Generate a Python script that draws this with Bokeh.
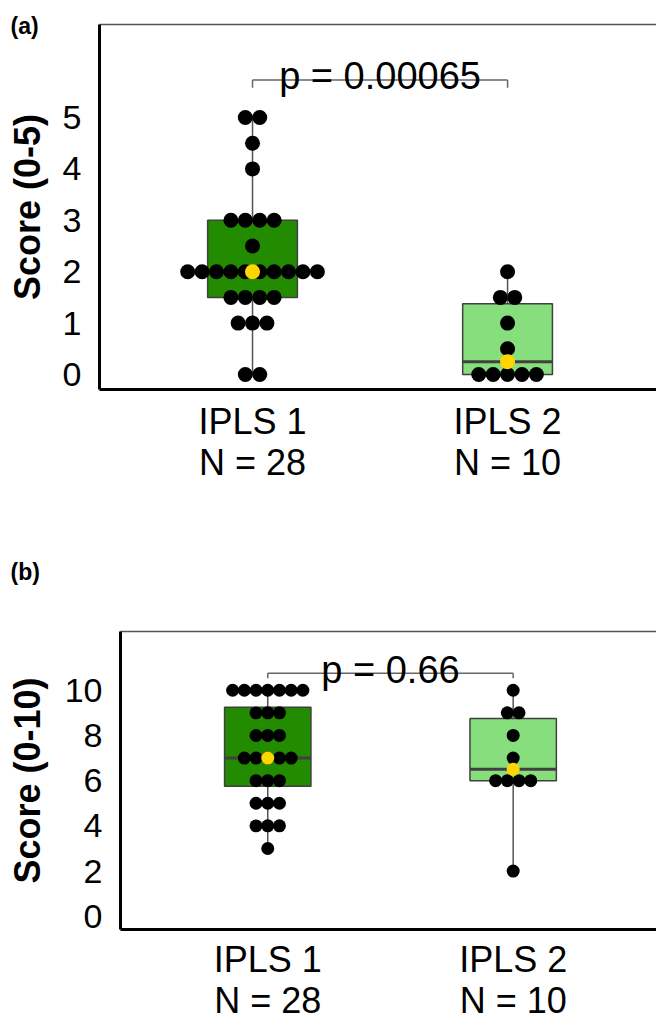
import numpy as np
from bokeh.plotting import figure
from bokeh.models import FixedTicker, LinearAxis, Range1d
from bokeh.core.properties import value
from bokeh.embed import file_html
from bokeh.resources import INLINE

# ---------------- data ----------------
groups = ["IPLS 1", "IPLS 2"]
group_n = ["N = 28", "N = 10"]
group_colors = ["#228B00", "#87DE7D"]

a_ipls1 = [5, 5, 4.5, 4, 3, 3, 3, 3, 2.5, 2, 2, 2, 2, 2, 2, 2, 2, 2, 2,
           1.5, 1.5, 1.5, 1.5, 1, 1, 1, 0, 0]
a_ipls2 = [2, 1.5, 1.5, 1, 0.5, 0, 0, 0, 0, 0]
a_ticks = [0, 1, 2, 3, 4, 5]
a_title = "Score (0-5)"
a_p = "p = 0.00065"

b_ipls1 = [10, 10, 10, 10, 10, 10, 10, 9, 9, 9, 8, 8, 8, 7, 7, 7, 7, 7,
           6, 6, 6, 5, 5, 5, 4, 4, 4, 3]
b_ipls2 = [10, 9, 9, 8, 7, 6, 6, 6, 6, 2]
b_ticks = [0, 2, 4, 6, 8, 10]
b_title = "Score (0-10)"
b_p = "p = 0.66"

FONT = "Liberation Sans"


def box_stats(vals):
    v = np.asarray(vals, dtype=float)
    q1, med, q3 = np.percentile(v, [25, 50, 75])
    iqr = q3 - q1
    lo = v[v >= q1 - 1.5 * iqr].min()
    hi = v[v <= q3 + 1.5 * iqr].max()
    return q1, med, q3, lo, hi


def swarm(vals, center, dx):
    xs, ys = [], []
    for u in sorted(set(vals)):
        n = vals.count(u)
        for k in range(n):
            xs.append(center + (k - (n - 1) / 2) * dx)
            ys.append(u)
    return xs, ys


def make_panel(data, ticks, title, ptext, yr, height, border_left, border_top,
               border_bottom, dot, dx, bracket_y, bracket_drop, p_y, letter,
               letter_standoff, title_standoff, x_std):
    p = figure(width=656, height=height, output_backend="svg",
               toolbar_location=None, x_range=Range1d(0.4, 2.584),
               y_range=Range1d(*yr), min_border_left=border_left,
               min_border_right=0, min_border_top=border_top,
               min_border_bottom=border_bottom)
    p.outline_line_color = None
    p.xgrid.visible = False
    p.ygrid.visible = False

    bw = 0.352
    for i, vals in enumerate(data):
        g = i + 1
        q1, med, q3, lo, hi = box_stats(vals)
        p.segment(x0=[g], y0=[lo], x1=[g], y1=[hi], line_color="#555555",
                  line_width=1.5)
        p.vbar(x=[g], width=bw, bottom=[q1], top=[q3],
               fill_color=group_colors[i], line_color="#404040", line_width=1.5)
        p.segment(x0=[g - bw / 2], y0=[med], x1=[g + bw / 2], y1=[med],
                  line_color="#404040", line_width=3)
        xs, ys = swarm(list(vals), g, dx)
        p.scatter(x=xs, y=ys, size=dot, fill_color="black", line_color=None)
        p.scatter(x=[g], y=[med], size=dot, fill_color="#FFD500",
                  line_color=None)

    # significance bracket
    p.segment(x0=[1, 1, 2], y0=[bracket_y - bracket_drop, bracket_y, bracket_y],
              x1=[1, 2, 2], y1=[bracket_y, bracket_y, bracket_y - bracket_drop],
              line_color="#666666", line_width=1.5)
    p.text(x=[1.5], y=[p_y], text=[ptext], text_font=value(FONT),
           text_font_size="38px", text_align="center",
           text_baseline="alphabetic", text_color="black")

    # axes
    p.xaxis.ticker = FixedTicker(ticks=[1, 2])
    p.xaxis.major_label_overrides = {1: groups[0] + "\n" + group_n[0],
                                     2: groups[1] + "\n" + group_n[1]}
    p.yaxis.ticker = FixedTicker(ticks=ticks)
    for ax in (p.xaxis[0], p.yaxis[0]):
        ax.axis_line_width = 3
        ax.axis_line_color = "black"
        ax.major_tick_out = 0
        ax.major_tick_in = 0
        ax.minor_tick_out = 0
        ax.minor_tick_in = 0
        ax.major_label_text_font = FONT
        ax.major_label_text_color = "black"
    p.xaxis.major_label_text_font_size = "36px"
    p.xaxis.major_label_text_line_height = 1.0
    p.xaxis.major_label_standoff = x_std
    p.yaxis.major_label_text_font_size = "34px"
    p.yaxis.major_label_standoff = 18
    p.yaxis.axis_label = title
    p.yaxis.axis_label_text_font = FONT
    p.yaxis.axis_label_text_font_style = "bold"
    p.yaxis.axis_label_text_font_size = "36px"
    p.yaxis.axis_label_text_color = "black"
    p.yaxis.axis_label_standoff = title_standoff

    top = LinearAxis(ticker=FixedTicker(ticks=[]), axis_line_color="#555555",
                     axis_line_width=1.5, major_label_text_font_size="0px")
    p.add_layout(top, "above")

    # panel letter as a left-aligned title shifted to the canvas edge
    p.title.text = letter
    p.title.align = "left"
    p.title.offset = 10 - border_left
    p.title.standoff = letter_standoff
    p.title.text_font = FONT
    p.title.text_font_size = "23px"
    p.title.text_font_style = "bold"
    p.title.text_color = "black"
    return p


pa = make_panel([a_ipls1, a_ipls2], a_ticks, a_title, a_p, (-0.292, 6.81),
                500, 99, 24, 111, 15, 0.0565, 5.73, 0.15, 5.80, "(a)",
                -28, 12, 11)
pb = make_panel([b_ipls1, b_ipls2], b_ticks, b_title, b_p, (-0.585, 12.6),
                523, 120, 131, 88, 13, 0.0477, 10.75, 0.22, 10.90, "(b)",
                94, 14, 9)

open("out.html", "w").write(file_html([pa, pb], INLINE))
